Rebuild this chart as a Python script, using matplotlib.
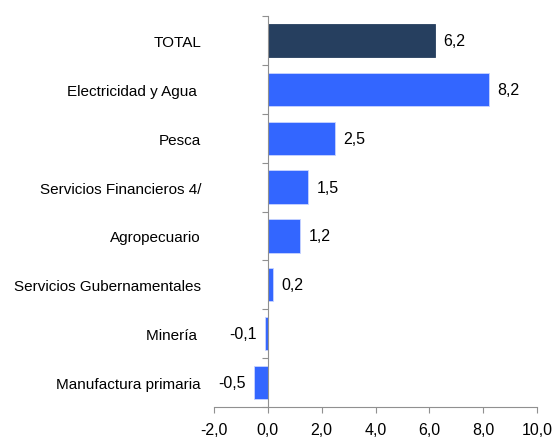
import matplotlib
matplotlib.use("Agg")
import matplotlib.pyplot as plt
import matplotlib.transforms as mtransforms

categories = ["TOTAL", "Electricidad y Agua ", "Pesca", "Servicios Financieros 4/",
              "Agropecuario", "Servicios Gubernamentales", "Minería ", "Manufactura primaria"]
values = [6.2, 8.2, 2.5, 1.5, 1.2, 0.2, -0.1, -0.5]
xticks = [-2, 0, 2, 4, 6, 8, 10]
colors = ["#263f5f"] + ["#3366ff"] * 7

plt.rcParams['font.family'] = ['Liberation Sans', 'DejaVu Sans']

fig = plt.figure(figsize=(5.54, 4.39), dpi=100)
ax = fig.add_axes([214/554, 1-408/439, (537-214)/554, (408-17)/439])

ypos = list(range(len(categories)))
ax.barh(ypos, values, height=0.68, color=colors,
        edgecolor=["#263f5f"] + ["#c8d4ff"] * 7, linewidth=0.6, zorder=2)
ax.set_ylim(len(categories) - 0.5, -0.5)
ax.set_xlim(-2, 10)

for y, v in zip(ypos, values):
    label = f"{v:.1f}".replace(".", ",")
    if v >= 0:
        ax.annotate(label, (v, y), xytext=(6, 0), textcoords="offset points",
                    ha="left", va="center", fontsize=11.5)
    else:
        ax.annotate(label, (v, y), xytext=(-6, 0), textcoords="offset points",
                    ha="right", va="center", fontsize=11.5)

trans = mtransforms.blended_transform_factory(ax.transAxes, ax.transData)
for y, c in zip(ypos, categories):
    ax.text(-0.04, y + 0.03, c, transform=trans, ha="right", va="center", fontsize=11)

for s in ["top", "right"]:
    ax.spines[s].set_visible(False)
ax.spines["left"].set_position(("data", 0))
ax.spines["left"].set_color("#909090")
ax.spines["bottom"].set_color("#909090")
ax.set_yticks([i - 0.5 for i in range(len(categories) + 1)])
ax.set_yticklabels([])
ax.tick_params(axis="y", length=4, color="#909090", direction="out")
ax.set_xticks(xticks)
ax.set_xticklabels([f"{t:.1f}".replace(".", ",") for t in xticks], fontsize=11.5)
ax.tick_params(axis="x", length=4, color="#909090", direction="out", pad=7)

fig.savefig("out.png", dpi=100)
